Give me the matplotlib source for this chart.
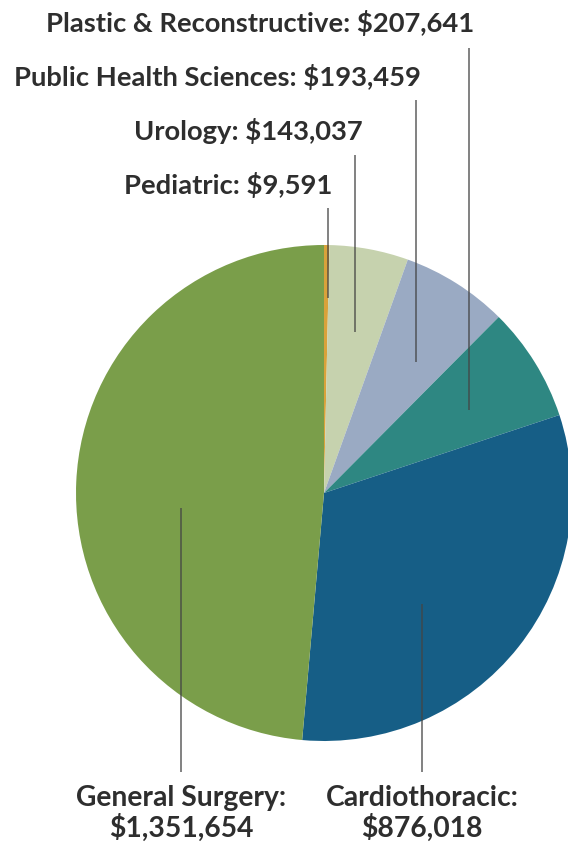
import matplotlib.pyplot as plt
import numpy as np

# slices in clockwise order starting from 12 o'clock
names = ["Pediatric", "Urology", "Public Health Sciences", "Plastic & Reconstructive",
         "Cardiothoracic", "General Surgery"]
values = [9591, 143037, 193459, 207641, 876018, 1351654]
colors = ["#d9a23a", "#c6d2ae", "#9aaac3", "#2e8782", "#165e86", "#7a9e4a"]

W, H = 568, 846
cx, cy, R = 324, 493, 248   # pie centre / radius in pixels (y from top)

# label layout (pixels, y from top): x, y, leader x, leader top, leader bottom
top_layout = {
    "Pediatric": (228, 185, 328, 208, 298),
    "Urology": (248, 131, 355, 155, 332),
    "Public Health Sciences": (217, 77, 416, 100, 362),
    "Plastic & Reconstructive": (260, 23, 469, 48, 410),
}
bottom_layout = {
    "General Surgery": (181, 508),
    "Cardiothoracic": (422, 604),
}

plt.rcParams['font.family'] = ['Lato', 'DejaVu Sans']
txt = "#2e2e2e"

fig = plt.figure(figsize=(W / 100, H / 100), dpi=100)
ax = fig.add_axes([0, 0, 1, 1])
ax.pie(values, colors=colors, startangle=90, counterclock=False,
       center=(cx, H - cy), radius=R, frame=False,
       wedgeprops=dict(linewidth=0))
ax.set_xlim(0, W)
ax.set_ylim(0, H)
ax.axis("off")

for name, val in zip(names, values):
    if name in top_layout:
        x, y, lx, ly0, ly1 = top_layout[name]
        ax.text(x, H - y, f"{name}: ${val:,}", ha="center", va="center",
                fontsize=19.7, fontweight="bold", color=txt)
        ax.plot([lx, lx], [H - ly0, H - ly1], color="#444444", lw=1.1,
                alpha=0.85, solid_capstyle="butt")
    else:
        lx, ly0 = bottom_layout[name]
        ax.plot([lx, lx], [H - ly0, H - 772], color="#444444", lw=1.1,
                alpha=0.85, solid_capstyle="butt")
        ax.text(lx, H - 785, f"{name}:\n${val:,}", ha="center", va="top",
                fontsize=20.3, fontweight="bold", color=txt, linespacing=1.12)

fig.savefig("out.png", dpi=100)
